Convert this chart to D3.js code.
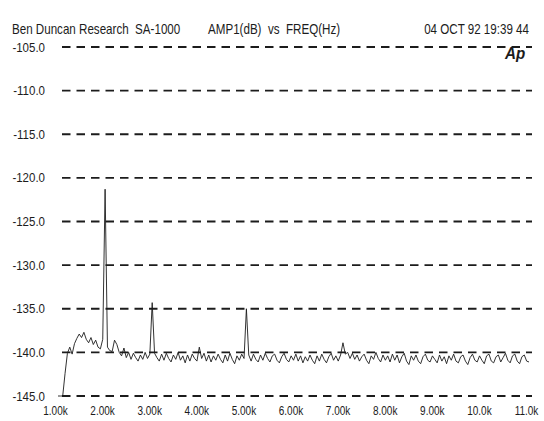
<!DOCTYPE html>
<html>
<head>
<meta charset="utf-8">
<script src="https://cdn.jsdelivr.net/npm/d3@7/dist/d3.min.js"></script>
<style>
    body { margin: 0; background: #fff; }
    text { font-family: 'Liberation Sans', Arial, sans-serif; fill: #1c1c1c; white-space: pre; }
</style>
</head>
<body>
<svg id="chart"></svg>
<script>
const width = 544;
const height = 421;

const headerLeft = 'Ben Duncan Research  SA-1000';
const headerMid = 'AMP1(dB)  vs  FREQ(Hz)';
const headerRight = '04 OCT 92 19:39 44';

const yTicks = [-105, -110, -115, -120, -125, -130, -135, -140, -145];
const yTickLabels = ['-105.0', '-110.0', '-115.0', '-120.0', '-125.0', '-130.0', '-135.0', '-140.0', '-145.0'];
const xTicks = [1, 2, 3, 4, 5, 6, 7, 8, 9, 10, 11];
const xTickLabels = ['1.00k', '2.00k', '3.00k', '4.00k', '5.00k', '6.00k', '7.00k', '8.00k', '9.00k', '10.0k', '11.0k'];

// sweep 1.00k .. 11.00k in 50 Hz steps, amplitude in dB
const sweepStart = 1.0;
const sweepStep = 0.05;
const amp = [
    -145.0, -145.0, -145.0, -142.4, -140.1, -139.4, -140.2, -139.0, -138.4, -137.9, -138.3, -137.7, -138.5, -138.9, -138.3, -139.1, -138.6, -139.4, -139.6, -138.5,
    -121.3, -139.4, -139.8, -139.9, -138.6, -139.1, -140.0, -140.4, -139.5, -140.6, -140.0, -140.8, -140.1, -140.6, -141.0, -140.3, -140.8, -140.0, -140.7, -140.2,
    -134.3, -140.1, -140.6, -141.0, -140.2, -140.9, -140.1, -140.7, -141.1, -140.3, -140.8, -140.0, -140.9, -140.4, -141.2, -140.3, -141.0, -140.2, -140.7, -141.0,
    -139.4, -140.7, -140.1, -141.0, -140.3, -141.1, -140.4, -140.9, -140.2, -140.8, -141.2, -140.3, -141.0, -140.1, -140.8, -141.3, -140.4, -140.9, -140.2, -140.7,
    -135.0, -140.3, -141.0, -140.2, -140.8, -141.1, -140.3, -140.9, -140.1, -140.7, -141.1, -140.4, -140.2, -140.9, -141.2, -140.5, -140.1, -140.8, -141.1, -140.4,
    -140.9, -140.2, -141.0, -140.4, -141.2, -140.5, -141.0, -140.3, -140.9, -141.3, -140.4, -141.0, -140.2, -140.8, -141.2, -140.5, -140.1, -140.9, -140.4, -141.0,
    -140.3, -138.9, -140.2, -140.0, -140.7, -140.1, -140.8, -140.3, -141.0, -140.5, -140.2, -140.9, -141.3, -140.4, -140.8, -140.0, -140.7, -141.1, -140.3, -140.9,
    -140.4, -141.1, -140.2, -140.9, -140.3, -141.2, -140.5, -140.1, -141.0, -141.4, -140.4, -140.9, -140.3, -141.0, -141.3, -140.5, -140.2, -140.9, -141.1, -140.4,
    -140.8, -141.2, -140.3, -141.0, -140.5, -141.3, -140.4, -140.9, -140.2, -141.0, -141.2, -140.5, -140.3, -141.0, -141.4, -140.6, -140.2, -140.9, -141.1, -140.4,
    -140.9, -141.3, -140.4, -140.2, -141.0, -141.2, -140.5, -140.3, -141.1, -140.6, -140.1, -140.9, -141.2, -140.4, -140.2, -141.0, -141.3, -140.5, -140.3, -141.0,
    -141.1
];

const svg = d3.select('#chart')
    .attr('width', width)
    .attr('height', height);

const x = d3.scaleLinear().domain([1, 11]).range([58, 529]);
const y = d3.scaleLinear().domain([-145, -105]).range([396, 47]);

// squeeze text horizontally, the plotter font is narrow
function condense(sel, k) {
    sel.each(function () {
        const w = this.getComputedTextLength();
        d3.select(this).attr('textLength', w * k).attr('lengthAdjust', 'spacingAndGlyphs');
    });
}

// header, drawn narrow with a horizontal scale
function header(tx, str, anchor) {
    svg.append('g').attr('transform', `translate(${tx},34) scale(0.8,1)`)
        .append('text').style('font-size', '14.5px').attr('text-anchor', anchor).text(str);
}
header(12, headerLeft, 'start');
header(208, headerMid, 'start');
header(529, headerRight, 'end');

// Ap logo
svg.append('g').attr('transform', 'translate(505,59) scale(0.95,1)')
    .append('text')
    .style('font-size', '16px').style('font-weight', 'bold').style('font-style', 'italic')
    .text('Ap');

// dashed grid
svg.append('g').selectAll('line').data(yTicks).enter().append('line')
    .attr('x1', 62).attr('x2', 532)
    .attr('y1', d => y(d)).attr('y2', d => y(d))
    .attr('stroke', '#1c1c1c')
    .attr('stroke-width', 1.8)
    .attr('stroke-dasharray', '8.5,6');

// y axis labels
const yAxis = svg.append('g').attr('transform', 'translate(45,0)')
    .call(d3.axisLeft(y).tickValues(yTicks).tickSize(0).tickPadding(0)
        .tickFormat((d, i) => yTickLabels[i]));
yAxis.select('.domain').remove();
yAxis.selectAll('text').style('font-size', '12.5px').attr('fill', '#1c1c1c').call(condense, 0.92);

// x axis labels
const xAxis = svg.append('g').attr('transform', 'translate(-3,406)')
    .call(d3.axisBottom(x).tickValues(xTicks).tickSize(0).tickPadding(0)
        .tickFormat((d, i) => xTickLabels[i]));
xAxis.select('.domain').remove();
xAxis.selectAll('text').style('font-size', '12.5px').attr('fill', '#1c1c1c').call(condense, 0.8);

// trace
const points = amp.map((v, i) => ({ f: sweepStart + i * sweepStep, db: v }));
const line = d3.line().x(d => x(d.f)).y(d => y(d.db));
svg.append('path').datum(points)
    .attr('d', line)
    .attr('fill', 'none')
    .attr('stroke', '#1c1c1c')
    .attr('stroke-width', 0.9)
    .attr('stroke-linejoin', 'round');
</script>
</body>
</html>
